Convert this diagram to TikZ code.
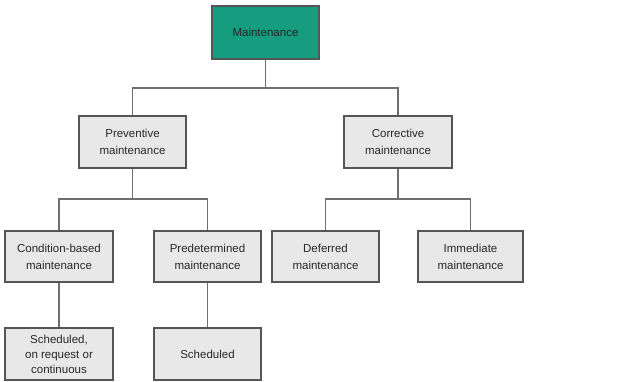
\documentclass[tikz,border=0pt]{standalone}
\usepackage{fontspec}
\setmainfont{Liberation Sans}
\definecolor{teal1}{RGB}{22,156,126}
\definecolor{boxgray}{RGB}{232,232,232}
\definecolor{edgegray}{RGB}{85,85,85}
\definecolor{linegray}{RGB}{110,110,110}
\definecolor{txt}{RGB}{40,40,40}
\tikzset{
  box/.style={draw=edgegray, line width=1.3pt, fill=boxgray, minimum height=52pt,
    inner sep=0pt, align=center, text=txt,
    font=\fontsize{11.5pt}{17pt}\selectfont},
  rootbox/.style={box, fill=teal1, text=black!85},
  conn/.style={draw=linegray, line width=1.3pt}
}
\begin{document}
\begin{tikzpicture}[x=1pt,y=-1pt]
\useasboundingbox (0,0) rectangle (629,381);
\clip (0,0) rectangle (629,381);
\node[rootbox, minimum width=107pt, minimum height=53pt] (root) at (265.5,32.5) {Maintenance};
\node[box, minimum width=107pt] (prev) at (132.5,142) {Preventive\\maintenance};
\node[box, minimum width=108pt] (corr) at (398,142) {Corrective\\maintenance};
\node[box, minimum width=108pt, minimum height=51pt] (cond) at (59,256.5) {Condition-based\\maintenance};
\node[box, minimum width=107pt, minimum height=51pt] (pred) at (207.5,256.5) {Predetermined\\maintenance};
\node[box, minimum width=107pt, minimum height=51pt] (defe) at (325.5,256.5) {Deferred\\maintenance};
\node[box, minimum width=105pt, minimum height=51pt] (imme) at (470.5,256.5) {Immediate\\maintenance};
\node[box, minimum width=108pt, font=\fontsize{11.5pt}{15pt}\selectfont] (sch1) at (59,354) {Scheduled,\\on request or\\continuous};
\node[box, minimum width=107pt] (sch2) at (207.5,354) {Scheduled};

\coordinate (b1) at (265.5,88);
\coordinate (b2) at (132.5,199);
\coordinate (b3) at (398,199);
\draw[conn] (root.south) -- (b1);
\draw[conn] (prev.north) |- (b1) -| (corr.north);
\draw[conn] (prev.south) -- (b2);
\draw[conn] (cond.north) |- (b2) -| (pred.north);
\draw[conn] (corr.south) -- (b3);
\draw[conn] (defe.north) |- (b3) -| (imme.north);
\draw[conn] (cond.south) -- (sch1.north);
\draw[conn] (pred.south) -- (sch2.north);
\end{tikzpicture}
\end{document}
